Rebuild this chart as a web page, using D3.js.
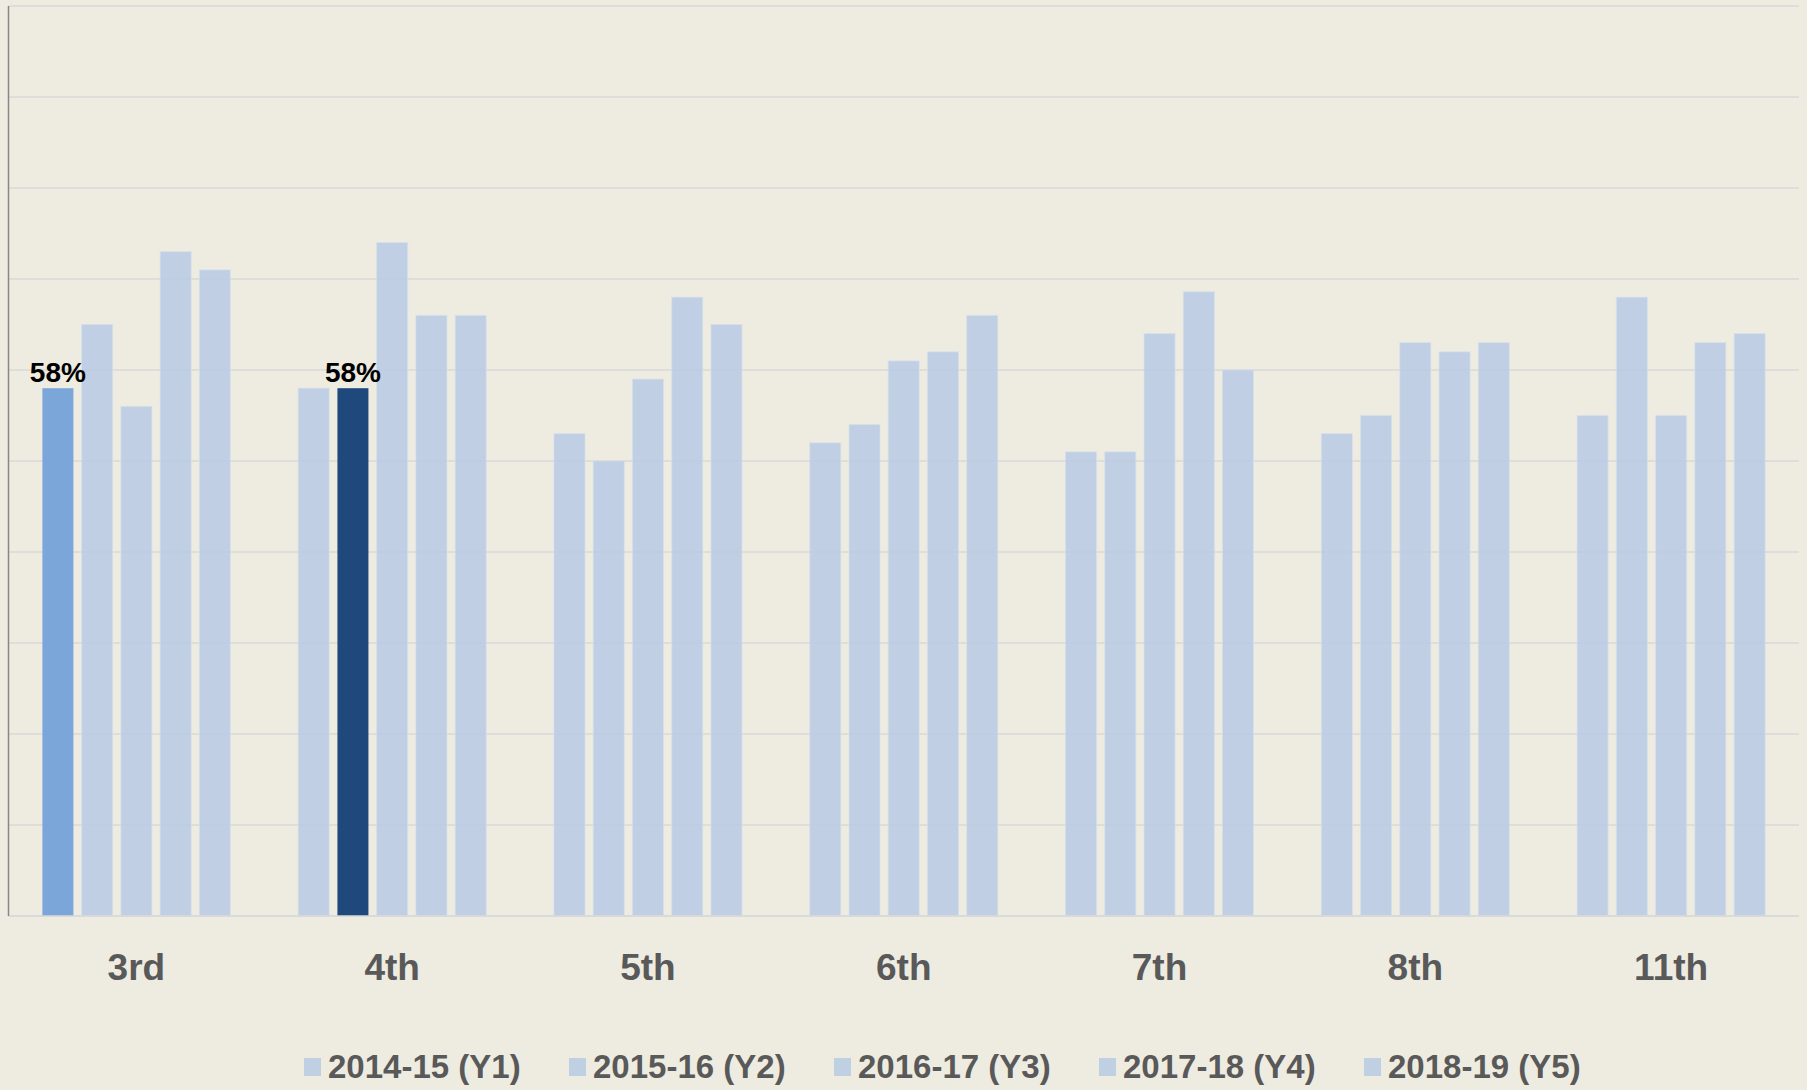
<!DOCTYPE html>
<meta charset="utf-8">
<style>
body { margin: 0; background: #eeece1; }
svg { display: block; }
</style>

<svg width="1807" height="1090"></svg>

<script src="https://d3js.org/d3.v7.min.js"></script>
<script>

// grades on the x axis
const grades = ["3rd", "4th", "5th", "6th", "7th", "8th", "11th"]

// one series per school year
const years = ["2014-15 (Y1)", "2015-16 (Y2)", "2016-17 (Y3)", "2017-18 (Y4)", "2018-19 (Y5)"]

// percent values, one row per year, one column per grade
const y1 = [58, 58, 53, 52, 51, 53, 55]
const y2 = [65, 58, 50, 54, 51, 55, 68]
const y3 = [56, 74, 59, 61, 64, 63, 55]
const y4 = [73, 66, 68, 62, 68.6, 62, 63]
const y5 = [71, 66, 65, 66, 60, 63, 64]
const seriesValues = [y1, y2, y3, y4, y5]

// gridline values
const yTicks = [0, 10, 20, 30, 40, 50, 60, 70, 80, 90, 100]

// bars that are highlighted and labelled: [grade, year index]
const highlighted = [["3rd", 0], ["4th", 1]]

var svg = d3.select("svg")

// note: "top" is taken by window.top, so use other names
var plotLeft = 8.5, plotRight = 1799, plotTop = 6, plotBottom = 916

var xScale = d3.scaleBand().domain(grades).range([plotLeft, plotRight])
  .paddingInner(0.265).paddingOuter(0.1325)
var xInner = d3.scaleBand().domain(d3.range(years.length))
  .range([0, xScale.bandwidth()]).paddingInner(0.21).paddingOuter(0)
var yScale = d3.scaleLinear().domain([0, 100]).range([plotBottom, plotTop])

// gridlines
svg.append("g")
  .selectAll("line")
  .data(yTicks)
  .enter()
  .append("line")
  .attr("x1", plotLeft)
  .attr("x2", plotRight)
  .attr("y1", function(d) { return yScale(d) })
  .attr("y2", function(d) { return yScale(d) })
  .attr("stroke", "#d9d9d9")
  .attr("stroke-width", 1.3)

// build the bar table
var bars = []
grades.forEach(function(g, gi) {
  seriesValues.forEach(function(s, si) {
    bars.push({grade: g, series: si, value: s[gi]})
  })
})

function isHighlighted(d) {
  return highlighted.some(function(h) { return h[0] == d.grade && h[1] == d.series })
}

var highColors = {"3rd": "#7ba6da", "4th": "#1f497d"}

svg.append("g")
  .selectAll("rect")
  .data(bars)
  .enter()
  .append("rect")
  .attr("x", function(d) { return xScale(d.grade) + xInner(d.series) })
  .attr("y", function(d) { return yScale(d.value) })
  .attr("width", xInner.bandwidth())
  .attr("height", function(d) { return yScale(0) - yScale(d.value) })
  .attr("fill", function(d) { return isHighlighted(d) ? highColors[d.grade] : "rgb(183,202,227)" })
  .attr("fill-opacity", function(d) { return isHighlighted(d) ? 1 : 0.85 })
  .attr("stroke", function(d) { return isHighlighted(d) ? "none" : "rgba(214,224,236,0.7)" })
  .attr("stroke-width", 1)

// value labels on highlighted bars
svg.append("g")
  .selectAll("text")
  .data(bars.filter(isHighlighted))
  .enter()
  .append("text")
  .attr("x", function(d) { return xScale(d.grade) + xInner(d.series) + xInner.bandwidth() / 2 })
  .attr("y", function(d) { return yScale(d.value) - 6 })
  .attr("text-anchor", "middle")
  .style("font-family", "'Liberation Sans', Arial, sans-serif")
  .style("font-weight", "bold")
  .style("font-size", "28px")
  .style("fill", "#000")
  .text(function(d) { return d.value + "%" })

// baseline and left axis line
svg.append("line")
  .attr("x1", plotLeft).attr("x2", plotRight)
  .attr("y1", yScale(0)).attr("y2", yScale(0))
  .attr("stroke", "#d9d9d9")
  .attr("stroke-width", 1.5)

svg.append("line")
  .attr("x1", plotLeft).attr("x2", plotLeft)
  .attr("y1", yScale(100)).attr("y2", yScale(0))
  .attr("stroke", "#868686")
  .attr("stroke-width", 1.5)

// category labels
var xAxis = svg.append("g")
  .attr("transform", "translate(0," + 980 + ")")
  .call(d3.axisBottom(xScale).tickSize(0).tickPadding(0))
xAxis.select(".domain").remove()
xAxis.selectAll("text")
  .attr("dy", 0)
  .attr("y", 0)
  .style("font-family", "'Liberation Sans', Arial, sans-serif")
  .style("font-weight", "bold")
  .style("font-size", "37px")
  .style("fill", "#595959")

// legend
var legend = svg.append("g")
  .selectAll("g")
  .data(years)
  .enter()
  .append("g")
  .attr("transform", function(d, i) { return "translate(" + (304 + i * 265) + ",0)" })

legend.append("rect")
  .attr("x", 0)
  .attr("y", 1058)
  .attr("width", 17)
  .attr("height", 18)
  .attr("fill", "#bfd0e3")

legend.append("text")
  .attr("x", 24)
  .attr("y", 1078)
  .style("font-family", "'Liberation Sans', Arial, sans-serif")
  .style("font-weight", "bold")
  .style("font-size", "33px")
  .style("fill", "#595959")
  .text(function(d) { return d })

</script>
